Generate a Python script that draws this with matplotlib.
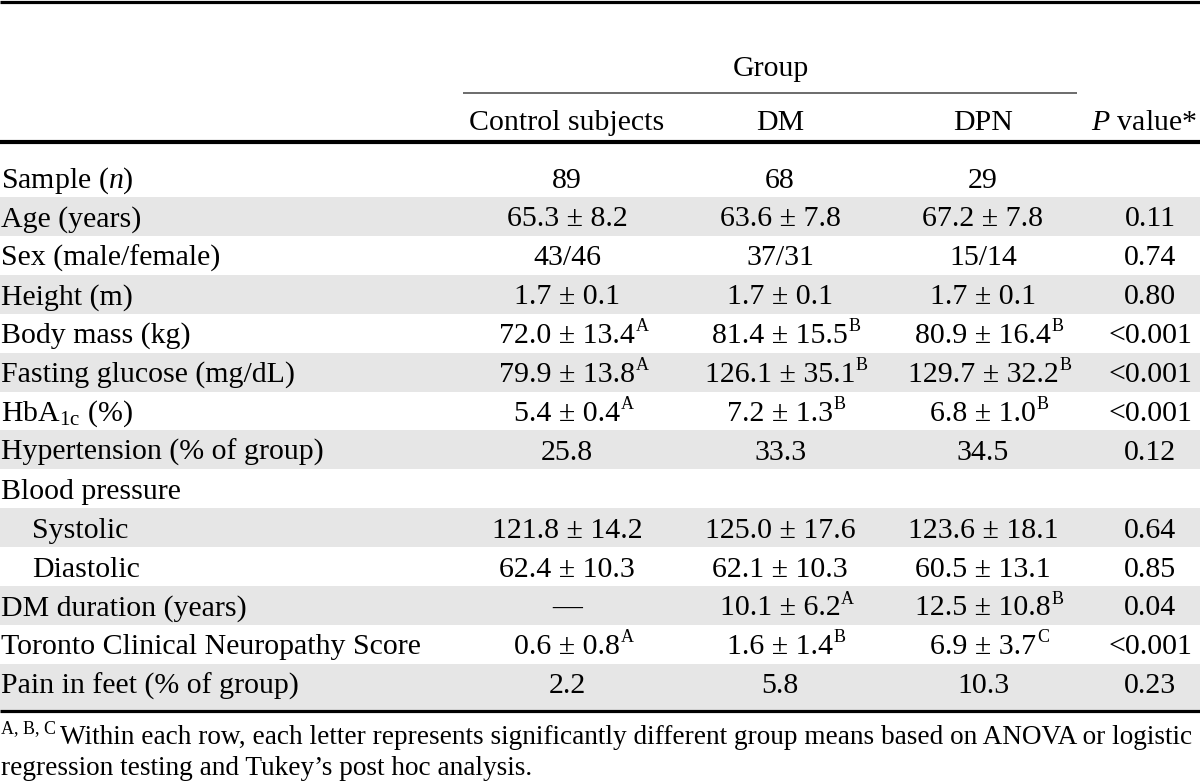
#Recreate the demographics table as a matplotlib figure

import matplotlib.pyplot as plt
from matplotlib.patches import Rectangle

plt.rcParams['font.family'] = ['Liberation Serif', 'DejaVu Serif']
plt.rcParams['mathtext.fontset'] = 'custom'
plt.rcParams['mathtext.rm'] = 'Liberation Serif'
plt.rcParams['mathtext.it'] = 'Liberation Serif:italic'
plt.rcParams['mathtext.bf'] = 'Liberation Serif:bold'

#Table content
group_title = "Group"
columns = ["Control subjects", "DM", "DPN", "$P$ value*"]

row_labels = ["Sample ($n$)", "Age (years)", "Sex (male/female)", "Height (m)",
              "Body mass (kg)", "Fasting glucose (mg/dL)", r"HbA$_\mathrm{1c}$ (%)",
              "Hypertension (% of group)", "Blood pressure", "Systolic", "Diastolic",
              "DM duration (years)", "Toronto Clinical Neuropathy Score",
              "Pain in feet (% of group)"]
indented = ["Systolic", "Diastolic"]

control = ["89", "65.3 ± 8.2", "43/46", "1.7 ± 0.1", "72.0 ± 13.4", "79.9 ± 13.8",
           "5.4 ± 0.4", "25.8", "", "121.8 ± 14.2", "62.4 ± 10.3", "—", "0.6 ± 0.8", "2.2"]
control_sup = ["", "", "", "", "A", "A", "A", "", "", "", "", "", "A", ""]

dm = ["68", "63.6 ± 7.8", "37/31", "1.7 ± 0.1", "81.4 ± 15.5", "126.1 ± 35.1",
      "7.2 ± 1.3", "33.3", "", "125.0 ± 17.6", "62.1 ± 10.3", "10.1 ± 6.2", "1.6 ± 1.4", "5.8"]
dm_sup = ["", "", "", "", "B", "B", "B", "", "", "", "", "A", "B", ""]

dpn = ["29", "67.2 ± 7.8", "15/14", "1.7 ± 0.1", "80.9 ± 16.4", "129.7 ± 32.2",
       "6.8 ± 1.0", "34.5", "", "123.6 ± 18.1", "60.5 ± 13.1", "12.5 ± 10.8", "6.9 ± 3.7", "10.3"]
dpn_sup = ["", "", "", "", "B", "B", "B", "", "", "", "", "B", "C", ""]

p_values = ["", "0.11", "0.74", "0.80", "<0.001", "<0.001", "<0.001", "0.12", "",
            "0.64", "0.85", "0.04", "<0.001", "0.23"]

footnote_sup = "A, B, C"
footnote_line1 = ("Within each row, each letter represents significantly different "
                  "group means based on ANOVA or logistic")
footnote_line2 = "regression testing and Tukey’s post hoc analysis."

#Layout (pixel coordinates of a 1200x782 canvas)
fs = 21.5
sup_fs = 13
foot_fs = 19.6
col_x = [567, 780, 983, 1150]
row_top0 = 158.1
row_h = 38.9
shade = "#e6e6e6"

fig = plt.figure(figsize=(12, 7.82), dpi=100)
ax = fig.add_axes([0, 0, 1, 1])
ax.set_xlim(0, 1200)
ax.set_ylim(782, 0)
ax.axis("off")

#Shaded bands on every second row
n_rows = len(row_labels)
for i in range(n_rows):
    if i % 2 == 1:
        top = row_top0 + i * row_h
        h = row_h
        if i == n_rows - 1:
            h = 710 - top
        ax.add_patch(Rectangle((0, top), 1200, h, color=shade, lw=0, zorder=0))

#Rules
ax.plot([0, 1200], [1.5, 1.5], color="black", lw=2.3, solid_capstyle="butt")
ax.plot([463, 1077], [92.5, 92.5], color="#444444", lw=1.1, solid_capstyle="butt")
ax.plot([0, 1200], [142, 142], color="black", lw=3.0, solid_capstyle="butt")
ax.plot([0, 1200], [711, 711], color="black", lw=2.3, solid_capstyle="butt")

#Header
ax.text(771, 76, group_title, ha="center", va="baseline", fontsize=fs)
for x, name in zip(col_x[:3], columns[:3]):
    ax.text(x, 130, name, ha="center", va="baseline", fontsize=fs)
ax.text(1197, 130, columns[3], ha="right", va="baseline", fontsize=fs)


def put_value(x, y, text, sup):
    t = ax.text(x, y, text, ha="center", va="baseline", fontsize=fs)
    if sup:
        ax.annotate(sup, xy=(1, 1), xycoords=t, xytext=(0.5, 3.5),
                    textcoords="offset points", ha="left", va="top",
                    fontsize=sup_fs)


#Body rows
for i in range(n_rows):
    base = row_top0 + i * row_h + row_h / 2 + 10
    label_x = 32 if row_labels[i] in indented else 1
    ax.text(label_x, base, row_labels[i], ha="left", va="baseline", fontsize=fs)
    put_value(col_x[0], base, control[i], control_sup[i])
    put_value(col_x[1], base, dm[i], dm_sup[i])
    put_value(col_x[2], base, dpn[i], dpn_sup[i])
    put_value(col_x[3], base, p_values[i], "")

#Footnote
ax.text(1, 733, footnote_sup, ha="left", va="baseline", fontsize=sup_fs)
ax.text(60, 744, footnote_line1, ha="left", va="baseline", fontsize=foot_fs)
ax.text(1, 775, footnote_line2, ha="left", va="baseline", fontsize=foot_fs)

fig.savefig("out.png", dpi=100)
